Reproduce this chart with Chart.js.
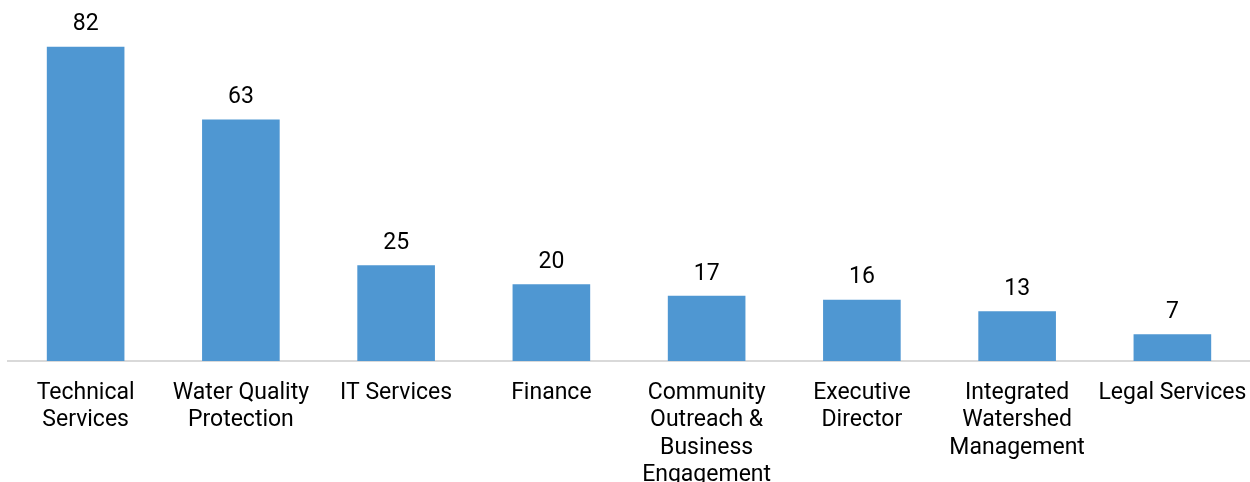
<!DOCTYPE html>
<html>
<head>
<meta charset="utf-8">
<script src="https://cdn.jsdelivr.net/npm/chart.js@4/dist/chart.umd.min.js"></script>
<style>
    html, body { margin: 0; padding: 0; background: #fff; }
    #wrap { width: 1250px; height: 482px; position: relative; }
</style>
</head>
<body>
<div id="wrap"><canvas id="deptChart"></canvas></div>
<script>
// Department names (pre-split into lines) and headcounts
const departments = [
    ['Technical', 'Services'],
    ['Water Quality', 'Protection'],
    'IT Services',
    'Finance',
    ['Community', 'Outreach &', 'Business', 'Engagement'],
    ['Executive', 'Director'],
    ['Integrated', 'Watershed', 'Management'],
    'Legal Services'
];
const counts = [82, 63, 25, 20, 17, 16, 13, 7];
const yMin = 0;
const yMax = 90;

const FONT = 'Roboto, "Liberation Sans", Arial, sans-serif';

// Draws the value above each bar
const valueLabels = {
    id: 'valueLabels',
    afterDatasetsDraw(chart) {
        const ctx = chart.ctx;
        const meta = chart.getDatasetMeta(0);
        ctx.save();
        ctx.font = '23px ' + FONT;
        ctx.fillStyle = '#000';
        ctx.textAlign = 'center';
        ctx.textBaseline = 'middle';
        meta.data.forEach((bar, i) => {
            ctx.fillText(String(counts[i]), bar.x, bar.y - 22);
        });
        ctx.restore();
    }
};

function initChart() {
    const ctx = document.getElementById('deptChart').getContext('2d');
    new Chart(ctx, {
        type: 'bar',
        data: {
            labels: departments,
            datasets: [{
                data: counts,
                backgroundColor: '#4f97d2',
                borderWidth: 0,
                categoryPercentage: 1,
                barPercentage: 0.5
            }]
        },
        options: {
            responsive: true,
            maintainAspectRatio: false,
            animation: false,
            layout: { padding: { top: 16, left: 8, right: -2, bottom: 0 } },
            plugins: {
                legend: { display: false },
                tooltip: { enabled: false }
            },
            scales: {
                x: {
                    grid: { display: false, drawTicks: false },
                    border: { color: '#d9d9d9', width: 2 },
                    afterFit(scale) {
                        // fixed label band; let the edge labels hang over the sides
                        scale.height = 121;
                        scale.paddingLeft = 0;
                        scale.paddingRight = 0;
                    },
                    ticks: {
                        autoSkip: false,
                        maxRotation: 0,
                        minRotation: 0,
                        padding: 19,
                        color: '#000',
                        font: { family: FONT, size: 23, lineHeight: 1.18 }
                    }
                },
                y: {
                    display: false,
                    min: yMin,
                    max: yMax
                }
            }
        },
        plugins: [valueLabels]
    });
}

document.addEventListener('DOMContentLoaded', initChart);
</script>
</body>
</html>
